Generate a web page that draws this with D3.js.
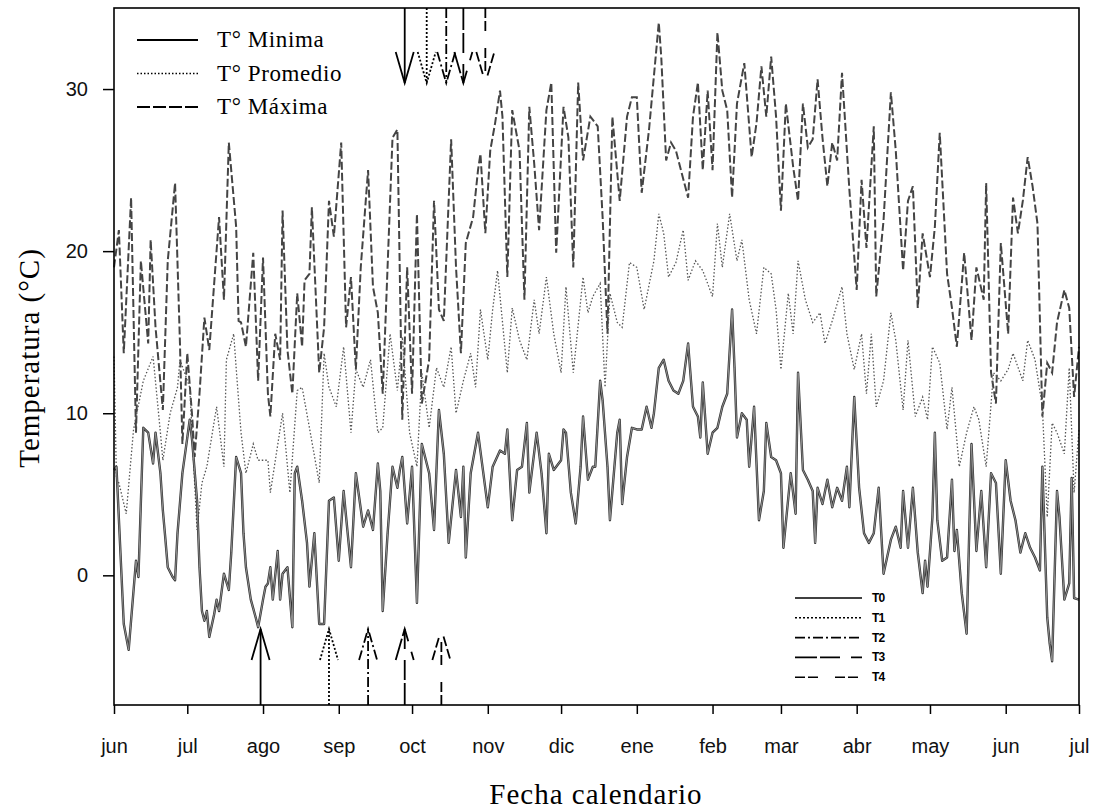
<!DOCTYPE html>
<html>
<head>
<meta charset="utf-8">
<script src="https://cdn.jsdelivr.net/npm/d3@7/dist/d3.min.js"></script>
<style>
  body { margin: 0; background: #fff; }
  svg { display: block; }
</style>
</head>
<body>
<div id="vis"></div>
<script>
// daily temperatures, [day since 1 jun, °C]
var minData = [
  [0,6.5],[1,6.7],[4,-3],[6,-4.6],[9,0.9],[10,-0.1],[12,9.1],[14,8.8],[16,6.9],[17,8.8],[19,6.3],[20,4],[21,2.3],[22,0.5],
  [24,-0.1],[25,-0.3],[26,2.6],[28,6.3],[30,8.5],[31,9.6],[32,8.3],[34,4.6],[35,0.5],[36,-2.2],[37,-2.8],[38,-2.2],[39,-3.8],
  [41,-2.4],[42,-1.5],[43,-2.2],[45,0.1],[47,-0.9],[48,1.4],[50,7.3],[52,6.3],[53,2.6],[54,0.5],[56,-1.5],[58,-2.6],[59,-3.2],
  [61,-1.5],[62,-0.7],[63,-0.5],[64,0.5],[65,-1.5],[67,1.5],[68,-1.5],[69,0.1],[71,0.5],[73,-3.2],[74,6.3],[75,6.7],[77,4.6],
  [79,2],[80,-0.7],[82,2.6],[84,-3],[85,-3],[86,-3],[88,4.6],[90,4.8],[92,0.9],[94,5.2],[95,3.6],[97,0.5],[99,6.3],[102,3],
  [104,4],[106,2.8],[108,6.9],[109,5.2],[110,-2.2],[112,2.6],[114,6.7],[116,5.4],[117,6.5],[118,7.3],[120,3.2],[122,6.7],
  [124,-1.7],[126,8.1],[129,6.3],[131,2.8],[133,10.2],[135,7.5],[137,2],[140,6.5],[142,3.6],[143,6.7],[144,1.1],[146,6.3],
  [149,8.8],[151,6.5],[153,4.2],[155,6.7],[158,7.7],[160,7.5],[161,9],[163,3.4],[165,6.5],[167,6.7],[169,9.4],[170,5.1],
  [173,8.8],[175,6.3],[177,2.6],[178,7.5],[180,6.5],[183,7.1],[184,9],[185,8.8],[187,5.1],[189,3.2],[191,6.7],[192,9.8],
  [194,5.9],[196,6.7],[197,6.7],[199,12],[200,10.8],[202,6.7],[203,3.4],[206,8.8],[207,9.6],[208,4.4],[210,7.3],[212,9.1],
  [214,9],[216,9],[218,10.4],[220,9.1],[221,10],[223,12.8],[225,13.3],[227,12],[229,11.4],[231,11.2],[233,12],[235,14.3],
  [237,10.4],[239,9.8],[240,8.5],[241,11.9],[243,7.5],[245,8.8],[247,9.1],[249,10.4],[251,11.2],[253,16.4],[254,12.8],
  [255,8.5],[257,10],[259,9.6],[260,6.7],[262,10.4],[264,3.4],[266,5.2],[267,9.4],[269,7.3],[271,7.1],[273,6.3],[274,1.7],
  [277,6.3],[279,3.8],[280,12.5],[282,6.5],[284,5.9],[286,5.2],[287,2],[288,5.4],[290,4.4],[292,5.9],[294,4.2],[296,5.4],
  [298,4.6],[300,6.7],[301,4.2],[303,11],[305,5.4],[307,2.6],[309,2],[311,2.6],[313,5.4],[315,0.1],[318,2.2],[320,3],
  [322,1.7],[323,5.2],[325,1.7],[327,5.4],[328,3.4],[329,1.4],[331,-1.1],[332,0.9],[333,-0.7],[335,3.6],[336,8.8],[337,3.4],
  [339,0.9],[341,1.1],[343,5.9],[344,1.5],[345,2.8],[347,-1.1],[349,-3.6],[351,8.1],[353,1.5],[355,5.2],[357,0.5],[359,6.3],
  [361,5.7],[363,0.1],[365,7.1],[367,4.6],[369,3.4],[371,1.4],[373,2.6],[375,1.7],[377,1.1],[379,0.3],[380,6.7],[382,-2.6],
  [383,-4.2],[384,-5.3],[386,5.2],[387,3.6],[389,-1.5],[391,-0.5],[392,6],[393,-1.4],[395,-1.5]
];

var meanData = [
  [0,13.5],[1,6],[2,5.7],[5,3.8],[8,9],[12,12],[16,13.5],[19,8.8],[20,7.1],[23,10],[26,11.6],[27,13.3],[31,11.6],[34,2.8],
  [36,5.7],[38,6.7],[42,10.4],[45,6.7],[46,13.3],[49,14.9],[50,12.8],[52,8.8],[54,6.3],[57,8.1],[59,7.1],[63,7.1],[64,5.1],
  [69,10],[72,5.1],[75,11.4],[77,11.6],[80,9.1],[84,5.7],[86,13.7],[88,11.6],[91,10.4],[94,14.1],[97,8.8],[99,12.7],
  [102,11.6],[105,13.3],[108,8.8],[110,9.1],[113,14.9],[116,11.4],[118,14.7],[121,8.8],[124,6.7],[126,12.5],[129,9.1],
  [132,12.8],[135,11.6],[138,14.1],[140,10],[143,12],[146,13.7],[148,11.6],[150,16.4],[153,13.3],[155,16.4],[157,18.8],
  [161,12.5],[163,16.5],[166,14.5],[169,13.3],[172,17],[174,14.9],[177,18.4],[180,14.9],[183,12.5],[185,17.8],[188,12.5],
  [192,18.4],[194,16.2],[196,17.2],[199,18],[201,11.6],[203,17.4],[206,15.6],[208,15.3],[211,19.3],[214,19],[217,16.4],
  [221,19.4],[223,22.3],[225,21.1],[227,18.4],[230,19.3],[233,21.3],[235,18.2],[238,19.4],[241,18.8],[245,17.2],[247,21.7],
  [249,19],[252,22.3],[255,19.4],[257,20.7],[260,17],[263,14.9],[266,19],[269,18.6],[271,16.4],[273,12.7],[276,17.4],
  [278,14.9],[280,19.4],[283,17],[286,15.6],[289,16.2],[291,14.3],[294,15.7],[298,17.8],[300,14.9],[303,12.7],[306,14.9],
  [308,11.2],[310,14.9],[312,10.4],[315,12],[318,16.2],[320,14.5],[323,10.2],[325,14.5],[328,9.8],[331,11],[333,9.6],
  [335,14.1],[338,13.1],[341,9],[343,11.6],[346,6.7],[349,8.8],[352,10.4],[354,9.6],[357,6.7],[360,12.5],[363,12],
  [366,12.7],[368,13.7],[372,12],[374,14.5],[377,13.3],[380,10.4],[382,3.6],[384,9.4],[386,8.8],[389,7.5],[391,12.8],
  [393,5.1],[395,9]
];

var maxData = [
  [0,19],[2,21.3],[4,13.7],[7,23.3],[9,8.8],[11,19.4],[14,14.3],[15,20.7],[17,15.3],[20,10.2],[22,19.4],[25,24.2],[27,14.3],
  [28,8.1],[30,13.7],[32,9.8],[33,7.3],[35,11.2],[37,15.9],[39,13.9],[43,22.1],[45,17],[47,26.7],[50,21.5],[51,15.7],
  [52,15.6],[54,14.1],[57,19.9],[59,12],[61,19.6],[63,11.2],[64,9.8],[66,14.9],[68,13.3],[69,22.5],[71,13.9],[73,11.2],
  [75,17.4],[77,14.1],[78,18.2],[80,18.6],[81,22.7],[84,12.5],[86,15.3],[88,23.1],[90,20.9],[93,26.7],[95,15.3],[97,18.4],
  [99,12.7],[101,19],[104,25],[106,17.8],[108,16.2],[110,11.2],[114,27],[116,27.5],[118,9.6],[120,19],[122,11.2],[124,22.3],
  [126,10.6],[129,13.3],[131,23.1],[133,16.4],[135,15.7],[138,26.9],[140,19],[142,13.7],[144,20.5],[147,22.1],[149,25],
  [150,26],[152,21.1],[154,26.2],[156,27.9],[158,29.9],[159,28.3],[161,18.4],[163,28.7],[166,26.2],[168,17],[170,28.9],
  [172,25.4],[174,21.3],[177,28.7],[179,30.4],[181,19.9],[184,28.9],[186,27],[188,19],[190,30.4],[192,25.6],[195,28.3],
  [198,27.7],[200,22.1],[202,14.9],[204,28.3],[207,23.1],[210,28.3],[212,29.5],[214,29.5],[216,23.6],[219,27.5],[223,34.1],
  [224,32],[226,25.6],[228,26.7],[230,26.2],[235,23.3],[237,28.3],[239,30.4],[241,25],[243,29.9],[245,25],[247,33.5],
  [249,29.9],[251,28.7],[253,23.3],[255,29.1],[258,31.6],[261,25.8],[263,27.9],[265,31.4],[267,28.3],[269,32],[271,28.3],
  [273,22.5],[275,29.1],[278,25.2],[280,23.1],[282,29.1],[284,26.4],[286,26.9],[288,30.6],[290,27],[292,24],[294,26.7],
  [296,25.6],[298,31],[301,23.8],[304,17.6],[306,24.4],[308,20.2],[311,27.7],[312,17.2],[315,21.9],[318,29.8],[320,26.2],
  [323,18.8],[325,23.1],[327,24],[329,16.5],[331,21.1],[334,18.4],[336,21.5],[338,27.3],[341,18.6],[343,16.5],[345,14.1],
  [348,19.9],[351,14.5],[353,19],[356,17],[357,24.2],[359,12.5],[361,10.6],[363,20.5],[366,14.9],[368,23.3],[370,21.1],
  [372,23.1],[374,25.8],[376,24],[378,21.7],[380,9.8],[382,13.1],[384,12.5],[386,15.6],[389,17.6],[391,16.5],[393,11],
  [395,14.1]
];

var monthLabels = ['jun','jul','ago','sep','oct','nov','dic','ene','feb','mar','abr','may','jun','jul'];
var yTicks = [0, 10, 20, 30];

// treatments: arrow up at start day, arrow down at end day
var treatments = ['T0', 'T1', 'T2', 'T3', 'T4'];
var startDays = [60, 88, 104, 119, 134];
var endDays = [119, 128, 136, 143, 152];

var seriesNames = ['T° Minima', 'T° Promedio', 'T° Máxima'];

var width = 1093, height = 810;
var plot = { left: 114, right: 1079, top: 8, bottom: 705 };
var day0 = new Date(2009, 5, 1);
var toDate = function (d) { return new Date(2009, 5, 1 + d); };

var treatDash = [null, '2,2', '10,3,2,3', '22,3,20,11', '10,3,10,17'];

var svg = d3.select('#vis').append('svg')
  .attr('width', width)
  .attr('height', height);

var x = d3.scaleTime()
  .domain([day0, new Date(2010, 6, 1)])
  .range([plot.left, plot.right]);

var y = d3.scaleLinear()
  .domain([-8, 35])
  .range([plot.bottom, plot.top]);

var line = d3.line()
  .x(function (d) { return x(toDate(d[0])); })
  .y(function (d) { return y(d[1]); });

// series
svg.append('path').datum(maxData)
  .attr('d', line).attr('fill', 'none')
  .attr('stroke', '#444').attr('stroke-width', 2)
  .attr('stroke-dasharray', '8,3');

svg.append('path').datum(meanData)
  .attr('d', line).attr('fill', 'none')
  .attr('stroke', '#555').attr('stroke-width', 1.3)
  .attr('stroke-dasharray', '1.5,2');

svg.append('path').datum(minData)
  .attr('d', line).attr('fill', 'none')
  .attr('stroke', '#333').attr('stroke-width', 2.4)
  .attr('stroke-linejoin', 'round');
svg.append('path').datum(minData)
  .attr('d', line).attr('fill', 'none')
  .attr('stroke', '#999').attr('stroke-width', 0.9)
  .attr('stroke-linejoin', 'round');

// frame
svg.append('rect')
  .attr('x', plot.left).attr('y', plot.top)
  .attr('width', plot.right - plot.left)
  .attr('height', plot.bottom - plot.top)
  .attr('fill', 'none').attr('stroke', '#000').attr('stroke-width', 1.6);

// axes
var yAxis = svg.append('g')
  .attr('transform', 'translate(' + plot.left + ',0)')
  .call(d3.axisLeft(y).tickValues(yTicks).tickSize(11).tickPadding(15));
yAxis.select('.domain').remove();
yAxis.selectAll('line').attr('stroke-width', 1.5);
yAxis.selectAll('text')
  .attr('font-family', '"Liberation Sans", Arial, sans-serif')
  .attr('font-size', 20).attr('fill', '#111');

var xAxis = svg.append('g')
  .attr('transform', 'translate(0,' + plot.bottom + ')')
  .call(d3.axisBottom(x).ticks(d3.timeMonth.every(1)).tickSize(9).tickPadding(25)
    .tickFormat(function (d, i) { return monthLabels[i]; }));
xAxis.select('.domain').remove();
xAxis.selectAll('line').attr('stroke-width', 1.5);
xAxis.selectAll('text')
  .attr('font-family', '"Liberation Sans", Arial, sans-serif')
  .attr('font-size', 20).attr('fill', '#111');

// axis titles
svg.append('text')
  .attr('x', 596).attr('y', 804)
  .attr('text-anchor', 'middle')
  .attr('font-family', '"Liberation Serif", "Times New Roman", serif')
  .attr('font-size', 29).attr('letter-spacing', 1)
  .text('Fecha calendario');

svg.append('text')
  .attr('transform', 'translate(39,358) rotate(-90)')
  .attr('text-anchor', 'middle')
  .attr('font-family', '"Liberation Serif", "Times New Roman", serif')
  .attr('font-size', 29).attr('letter-spacing', 1)
  .text('Temperatura (°C)');

// arrows for treatments
function arrow(xp, yBase, yTip, dash) {
  var dir = yTip < yBase ? 1 : -1;
  var g = svg.append('g')
    .attr('fill', 'none').attr('stroke', '#000').attr('stroke-width', 1.8)
    .attr('stroke-dasharray', dash);
  g.append('line')
    .attr('x1', xp).attr('y1', yBase)
    .attr('x2', xp).attr('y2', yTip);
  g.append('polyline')
    .attr('points', [[xp - 9, yTip + dir * 31], [xp, yTip], [xp + 9, yTip + dir * 31]].join(' '));
}

treatments.forEach(function (t, i) {
  arrow(x(toDate(startDays[i])), plot.bottom, 629, treatDash[i]);
  arrow(x(toDate(endDays[i])), plot.top, 83, treatDash[i]);
});

// series legend (top left)
var legDash = [null, '1.5,2', '13,3'];
seriesNames.forEach(function (name, i) {
  var ly = 40 + i * 33.5;
  svg.append('line')
    .attr('x1', 137).attr('x2', 198).attr('y1', ly).attr('y2', ly)
    .attr('stroke', '#000').attr('stroke-width', i === 1 ? 1.4 : 1.8)
    .attr('stroke-dasharray', legDash[i]);
  svg.append('text')
    .attr('x', 217).attr('y', ly + 7)
    .attr('font-family', '"Liberation Serif", "Times New Roman", serif')
    .attr('font-size', 23).attr('letter-spacing', 0.6)
    .text(name);
});

// treatment legend (bottom right)
treatments.forEach(function (t, i) {
  var ly = 598 + i * 19.8;
  svg.append('line')
    .attr('x1', 795).attr('x2', 862).attr('y1', ly).attr('y2', ly)
    .attr('stroke', '#000').attr('stroke-width', 1.6)
    .attr('stroke-dasharray', treatDash[i]);
  svg.append('text')
    .attr('x', 872).attr('y', ly + 4)
    .attr('font-family', '"Liberation Sans", Arial, sans-serif')
    .attr('font-size', 12).attr('font-weight', 'bold').attr('letter-spacing', -0.8)
    .text(t);
});
</script>
</body>
</html>
